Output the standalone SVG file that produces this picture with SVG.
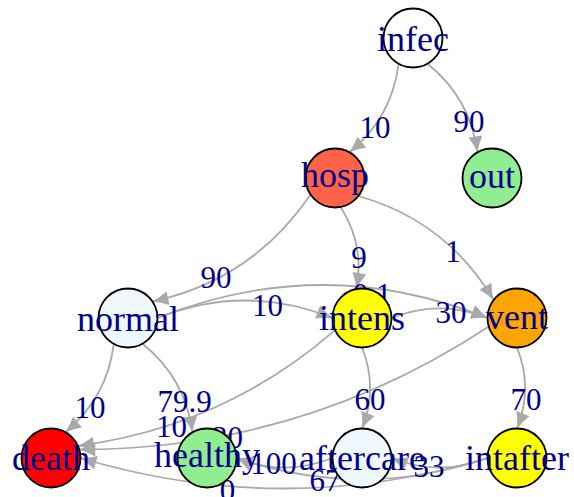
<svg xmlns="http://www.w3.org/2000/svg" width="574" height="497" viewBox="0 0 574 497">
<defs>
<marker id="arr" markerUnits="userSpaceOnUse" orient="auto" refX="0" refY="0" markerWidth="20" markerHeight="20" overflow="visible">
<path d="M0,0 Q-8,-2.4 -16,-7 L-16,7 Q-8,2.4 0,0 Z" fill="#A9A9A9"/>
</marker>
<style>
.e{fill:none;stroke:#A9A9A9;stroke-width:1.8;marker-end:url(#arr)}
.el{font-family:"Liberation Serif","Times New Roman",serif;font-size:31px;fill:#00008B;text-anchor:middle}
.n circle{stroke:#000;stroke-width:1.8}
.n text{font-family:"Liberation Serif","Times New Roman",serif;font-size:36px;fill:#00008B;text-anchor:middle}
</style>
</defs>
<rect width="574" height="497" fill="#fff"/>
<g id="edges">
<path class="e" d="M398.6,63.8 Q391.7,117.9 349.4,152.2"/>
<path class="e" d="M427.5,63.7 Q470.2,98 477.5,152.3"/>
<path class="e" d="M310.6,194.5 Q252.9,279.6 152.4,301.5"/>
<path class="e" d="M340.6,207 Q364.9,244.8 356.4,289"/>
<path class="e" d="M358.4,196 Q446.8,221 493.6,300"/>
<path class="e" d="M113.8,343.9 Q107.2,397.7 65.2,432.2"/>
<path class="e" d="M142.5,343.7 Q185.2,378 192.5,432.3"/>
<path class="e" d="M157.5,318 Q245,283 332.5,318"/>
<path class="e" d="M157.5,318 Q322.5,252 487.5,318"/>
<path class="e" d="M335.1,330.1 Q223.9,426.6 77.9,445.9"/>
<path class="e" d="M362,347.5 Q378.2,388 362,428.5"/>
<path class="e" d="M391.5,318 Q439.5,298.8 487.5,318"/>
<path class="e" d="M488.8,326.5 Q302.5,449.4 79.3,449.5"/>
<path class="e" d="M517,347.5 Q533.2,388 517,428.5"/>
<path class="e" d="M332.5,458 Q284.5,477.2 236.5,458"/>
<path class="e" d="M487.5,458 Q439.5,477.2 391.5,458"/>
<path class="e" d="M487.5,458 Q362,500.7 236.5,458"/>
<path class="e" d="M487.5,458 Q284,519 80.5,458"/>
</g>
<g id="edge-labels">
<text class="el" x="375" y="138">10</text>
<text class="el" x="469" y="131.5">90</text>
<text class="el" x="216" y="288">90</text>
<text class="el" x="359" y="268">9</text>
<text class="el" x="453" y="261.7">1</text>
<text class="el" x="90" y="418">10</text>
<text class="el" x="184.5" y="412">79.9</text>
<text class="el" x="267.5" y="316">10</text>
<text class="el" x="372" y="304.5">0.1</text>
<text class="el" x="171.5" y="437">10</text>
<text class="el" x="370" y="410">60</text>
<text class="el" x="451" y="323">30</text>
<text class="el" x="227.5" y="448">30</text>
<text class="el" x="526" y="410">70</text>
<text class="el" x="273.5" y="474">100</text>
<text class="el" x="429" y="476.5">33</text>
<text class="el" x="325" y="491">67</text>
<text class="el" x="227.5" y="501">0</text>
</g>
<g id="infec" class="n"><circle cx="413" cy="38" r="29.5" fill="#FFFFFF"/><text x="413" y="51">infec</text></g>
<g id="hosp" class="n"><circle cx="335" cy="178" r="29.5" fill="#FF6347"/><text x="335" y="186.5">hosp</text></g>
<g id="out" class="n"><circle cx="492" cy="178" r="29.5" fill="#90EE90"/><text x="492" y="187.5">out</text></g>
<g id="normal" class="n"><circle cx="128" cy="318" r="29.5" fill="#F0F8FF"/><text x="128" y="330.5">normal</text></g>
<g id="intens" class="n"><circle cx="362" cy="318" r="29.5" fill="#FFFF00"/><text x="362" y="330">intens</text></g>
<g id="vent" class="n"><circle cx="517" cy="318" r="29.5" fill="#FFA500"/><text x="517" y="328.5">vent</text></g>
<g id="death" class="n"><circle cx="51" cy="458" r="29.5" fill="#FF0000"/><text x="51" y="470.3">death</text></g>
<g id="healthy" class="n"><circle cx="207" cy="458" r="29.5" fill="#90EE90"/><text x="207" y="466.5">healthy</text></g>
<g id="aftercare" class="n"><circle cx="362" cy="458" r="29.5" fill="#F0F8FF"/><text x="362" y="470.3">aftercare</text></g>
<g id="intafter" class="n"><circle cx="517" cy="458" r="29.5" fill="#FFFF00"/><text x="517" y="470.3">intafter</text></g>
</svg>
